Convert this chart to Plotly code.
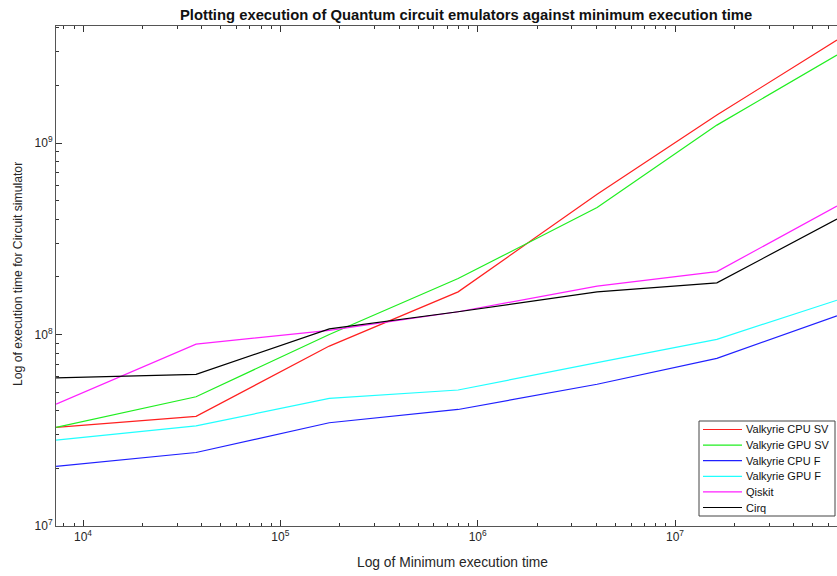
import plotly.graph_objects as go

# ---- data ----
min_exec_time = [7.3e3, 3.74e4, 1.77e5, 7.96e5, 4.03e6, 1.63e7, 6.62e7]

valkyrie_cpu_sv = [3.27e7, 3.74e7, 8.7e7, 1.67e8, 5.4e8, 1.40e9, 3.45e9]
valkyrie_gpu_sv = [3.27e7, 4.73e7, 1.0e8, 1.96e8, 4.6e8, 1.24e9, 2.88e9]
valkyrie_cpu_f = [2.05e7, 2.42e7, 3.46e7, 4.06e7, 5.5e7, 7.51e7, 1.25e8]
valkyrie_gpu_f = [2.81e7, 3.33e7, 4.64e7, 5.13e7, 7.13e7, 9.44e7, 1.51e8]
qiskit = [4.33e7, 8.91e7, 1.05e8, 1.315e8, 1.79e8, 2.13e8, 4.69e8]
cirq = [5.94e7, 6.19e7, 1.07e8, 1.315e8, 1.67e8, 1.86e8, 4.01e8]

series_names = ["Valkyrie CPU SV", "Valkyrie GPU SV", "Valkyrie CPU F",
                "Valkyrie GPU F", "Qiskit", "Cirq"]
series_values = [valkyrie_cpu_sv, valkyrie_gpu_sv, valkyrie_cpu_f,
                 valkyrie_gpu_f, qiskit, cirq]
series_colors = ["#ff2020", "#20ee20", "#2020ff", "#20ffff", "#ff20ff", "#000000"]

x_tick_exps = [4, 5, 6, 7]
y_tick_exps = [7, 8, 9]

title_text = "Plotting execution of Quantum circuit emulators against minimum execution time"
x_label = "Log of Minimum execution time"
y_label = "Log of execution time for Circuit simulator"

# ---- figure ----
W, H = 837, 576
ML, MR, MT, MB = 56, 0, 26, 50
PW, PH = W - ML - MR, H - MT - MB
FONT = "Liberation Sans, Arial, sans-serif"

fig = go.Figure()
for name, vals, col in zip(series_names, series_values, series_colors):
    fig.add_trace(go.Scatter(x=min_exec_time, y=vals, mode="lines", name=name,
                             line=dict(color=col, width=1.2), showlegend=False))

def minor_vals(lo, hi):
    out = []
    for e in range(lo, hi + 1):
        for m in range(2, 10):
            out.append(m * 10 ** e)
    return out

axis_font = dict(family=FONT, size=12, color="#262626")

fig.update_xaxes(type="log", range=[3.863, 7.821],
                 tickmode="array", tickvals=[10 ** e for e in x_tick_exps],
                 ticktext=[f"10<sup>{e}</sup>" for e in x_tick_exps],
                 ticks="inside", ticklen=6, tickcolor="#333", tickwidth=1,
                 minor=dict(tickvals=minor_vals(3, 7), ticks="inside", ticklen=3,
                            tickcolor="#333", showgrid=False),
                 showline=True, linecolor="#555", linewidth=1, mirror="ticks",
                 showgrid=False, zeroline=False, tickfont=axis_font)
fig.update_yaxes(type="log", range=[7, 9.611],
                 tickmode="array", tickvals=[10 ** e for e in y_tick_exps],
                 ticktext=[f"10<sup>{e}</sup>" for e in y_tick_exps],
                 ticks="inside", ticklen=6, tickcolor="#333", tickwidth=1,
                 minor=dict(tickvals=minor_vals(7, 9), ticks="inside", ticklen=3,
                            tickcolor="#333", showgrid=False),
                 showline=True, linecolor="#555", linewidth=1, mirror=False,
                 showgrid=False, zeroline=False, tickfont=axis_font)

def px_x(p):
    return (p - ML) / PW

def px_y(p):
    return (H - MB - p) / PH

# title and axis labels placed as in the reference
fig.add_annotation(xref="paper", yref="paper", x=px_x(466), y=px_y(15),
                   text=f"<b>{title_text}</b>", showarrow=False,
                   xanchor="center", yanchor="middle",
                   font=dict(family=FONT, size=14.8, color="#111"))
fig.add_annotation(xref="paper", yref="paper", x=px_x(452), y=px_y(562),
                   text=x_label, showarrow=False, xanchor="center", yanchor="middle",
                   font=dict(family=FONT, size=13.8, color="#262626"))
fig.add_annotation(xref="paper", yref="paper", x=px_x(18), y=px_y(274),
                   text=y_label, showarrow=False, xanchor="center", yanchor="middle",
                   textangle=-90, font=dict(family=FONT, size=12.2, color="#262626"))

# ---- custom compact legend (MATLAB style) ----
box_l, box_r, box_t, box_b = 699, 835, 421, 516
fig.add_shape(type="rect", xref="paper", yref="paper",
              x0=px_x(box_l), x1=px_x(box_r), y0=px_y(box_b), y1=px_y(box_t),
              line=dict(color="#444", width=1), fillcolor="white", layer="above")
for i, (name, col) in enumerate(zip(series_names, series_colors)):
    yc = box_t + 8.5 + i * 15.6
    fig.add_shape(type="line", xref="paper", yref="paper",
                  x0=px_x(703), x1=px_x(742), y0=px_y(yc), y1=px_y(yc),
                  line=dict(color=col, width=1.2), layer="above")
    fig.add_annotation(xref="paper", yref="paper", x=px_x(744), y=px_y(yc),
                       text=name, showarrow=False, xanchor="left", yanchor="middle",
                       font=dict(family=FONT, size=11, color="#111"))

fig.update_layout(
    width=W, height=H,
    margin=dict(l=ML, r=MR, t=MT, b=MB, pad=0),
    paper_bgcolor="white", plot_bgcolor="white",
    showlegend=False,
)

fig.write_html("out.html")
